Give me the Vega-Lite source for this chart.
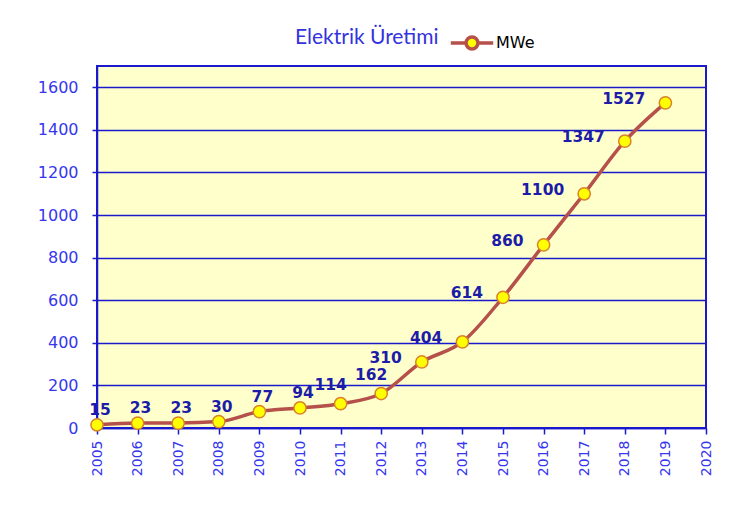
{
  "$schema": "https://vega.github.io/schema/vega-lite/v6.json",
  "width": 609,
  "height": 362,
  "padding": {"left": 37, "top": 20, "right": 5, "bottom": 5},
  "background": "white",
  "config": {
    "view": {"fill": "#ffffcc", "stroke": "#1a1acc", "strokeWidth": 2},
    "axis": {
      "domainColor": "#1a1acc", "tickColor": "#1a1acc", "domainWidth": 1.5, "tickWidth": 1.5,
      "labelFont": "DejaVu Sans", "labelColor": "#3636ee", "title": null
    }
  },
  "data": {
    "values": [
      {"year": 2005, "value": 15},
      {"year": 2006, "value": 23},
      {"year": 2007, "value": 23},
      {"year": 2008, "value": 30},
      {"year": 2009, "value": 77},
      {"year": 2010, "value": 94},
      {"year": 2011, "value": 114},
      {"year": 2012, "value": 162},
      {"year": 2013, "value": 310},
      {"year": 2014, "value": 404},
      {"year": 2015, "value": 614},
      {"year": 2016, "value": 860},
      {"year": 2017, "value": 1100},
      {"year": 2018, "value": 1347},
      {"year": 2019, "value": 1527}
    ]
  },
  "encoding": {
    "x": {
      "field": "year", "type": "quantitative",
      "scale": {"domain": [2005, 2020], "nice": false, "zero": false},
      "axis": {
        "values": [2005, 2006, 2007, 2008, 2009, 2010, 2011, 2012, 2013, 2014, 2015, 2016, 2017, 2018, 2019, 2020],
        "format": "d", "labelAngle": -90, "grid": false, "tickSize": 6, "labelPadding": 6,
        "labelFontSize": 14
      }
    },
    "y": {
      "field": "value", "type": "quantitative",
      "scale": {"domain": [0, 1700], "nice": false},
      "axis": {
        "values": [0, 200, 400, 600, 800, 1000, 1200, 1400, 1600],
        "format": "d",
        "grid": true, "gridColor": "#1a1acc", "gridWidth": 1.3, "gridOpacity": 1,
        "tickSize": 5, "labelPadding": 14, "labelFontSize": 16
      }
    }
  },
  "layer": [
    {
      "mark": {"type": "line", "interpolate": "monotone", "strokeWidth": 3.5},
      "encoding": {
        "color": {
          "datum": "MWe",
          "scale": {"range": ["#b5504a"]},
          "legend": {
            "orient": "none", "legendX": 198, "legendY": -46,
            "title": "Elektrik Üretimi", "titleOrient": "left",
            "titleFont": "Lato", "titleFontSize": 21, "titleFontWeight": "normal", "titleColor": "#3333dd",
            "titlePadding": 10,
            "labelFont": "DejaVu Sans", "labelFontSize": 16, "labelColor": "black", "labelOffset": 1,
            "symbolType": "M-1,0H-0.28M0.28,0H1M-0.28,0A0.28,0.28 0 1,1 0.28,0A0.28,0.28 0 1,1 -0.28,0Z",
            "symbolSize": 1800, "symbolStrokeWidth": 3.5, "symbolFillColor": "#ffff00"
          }
        }
      }
    },
    {
      "mark": {"type": "point", "filled": true, "fill": "#ffff00", "stroke": "#d9822b", "strokeWidth": 1.5, "size": 150, "opacity": 1}
    },
    {
      "transform": [{"filter": "datum.year <= 2010"}],
      "mark": {"type": "text", "align": "center", "baseline": "middle", "dx": 3, "dy": -15, "font": "DejaVu Sans", "fontSize": 15.5, "fontWeight": "bold", "color": "#1c1ca8"},
      "encoding": {"text": {"field": "value", "type": "quantitative"}}
    },
    {
      "transform": [{"filter": "datum.year > 2010 && datum.year <= 2012"}],
      "mark": {"type": "text", "align": "center", "baseline": "middle", "dx": -10, "dy": -19, "font": "DejaVu Sans", "fontSize": 15.5, "fontWeight": "bold", "color": "#1c1ca8"},
      "encoding": {"text": {"field": "value", "type": "quantitative"}}
    },
    {
      "transform": [{"filter": "datum.year > 2012"}],
      "mark": {"type": "text", "align": "right", "baseline": "middle", "dx": -20, "dy": -4, "font": "DejaVu Sans", "fontSize": 15.5, "fontWeight": "bold", "color": "#1c1ca8"},
      "encoding": {"text": {"field": "value", "type": "quantitative"}}
    }
  ]
}
